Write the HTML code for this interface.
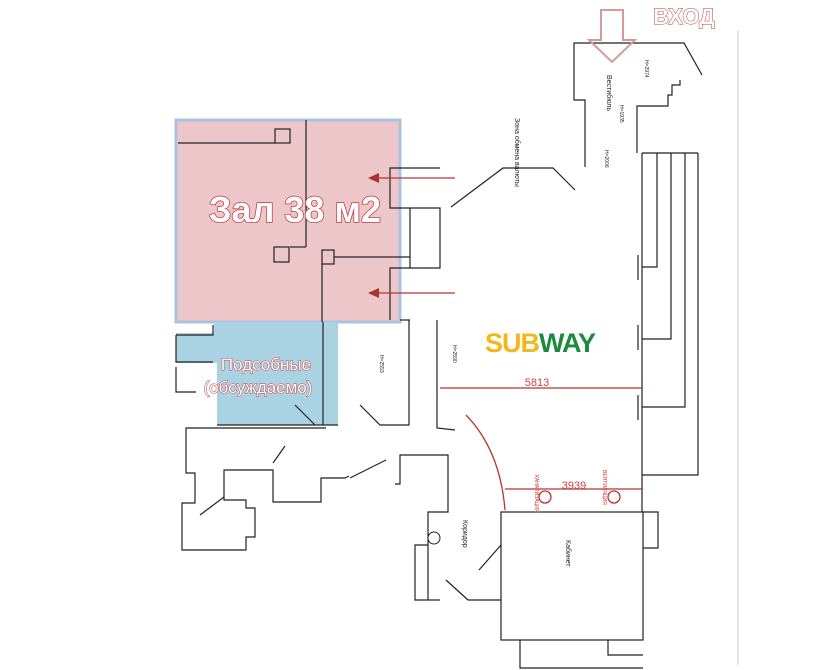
<!DOCTYPE html>
<html><head><meta charset="utf-8"><style>
html,body{margin:0;padding:0;background:#fff;}
svg{display:block;font-family:"Liberation Sans","DejaVu Sans",sans-serif;}
</style></head><body>
<svg width="840" height="670" viewBox="0 0 840 670" xmlns="http://www.w3.org/2000/svg">
<!-- far right thin line -->
<line x1="738" y1="30" x2="738" y2="665" stroke="#ccc" stroke-width="1"/>

<!-- Pink hall -->
<rect x="176" y="120" width="224" height="202" fill="#ecc6c8" stroke="#a9c3e0" stroke-width="3"/>
<!-- Blue area -->
<polygon points="176,333 214,333 214,322 338,322 338,425 217,425 217,363 176,363" fill="#a9d3e2"/>

<g stroke="#222" stroke-width="1.2" fill="none">
  <!-- inside hall -->
  <polyline points="178,143 275,143"/>
  <rect x="275" y="129" width="15" height="14"/>
  <line x1="306" y1="120" x2="306" y2="247"/>
  <polyline points="290,247 306,247"/>
  <rect x="274" y="247" width="15" height="15"/>
  <rect x="322" y="250" width="12" height="14"/>
  <polyline points="334,257 410,257"/>
  <polyline points="322,264 322,322"/>
  <polyline points="390,168 400,168 390,168 390,208 400,208"/>
  <line x1="400" y1="168" x2="440" y2="168"/>
  <polyline points="400,208 440,208 440,268 400,268"/>
  <line x1="410" y1="208" x2="410" y2="268"/>
  <polyline points="400,268 390,268 390,320"/>
  <!-- blue area walls -->
  <line x1="323" y1="322" x2="323" y2="425"/>
  <polyline points="176,335 213,335 213,325"/>
  <polyline points="176,335 176,362 213,362"/>
  <polyline points="176,367 176,392 196,392"/>
  <line x1="295" y1="405" x2="315" y2="425"/>
  <line x1="217" y1="425" x2="338" y2="425"/>
  <!-- center rooms -->
  <polyline points="409,320 409,425 380,425 360,405"/>
  <polyline points="400,320 410,320"/>
  <polyline points="437,320 437,428 455,430"/>
  <!-- lower left rooms -->
  <polyline points="326,428 186,428 186,473 195,473 195,503 182,503 182,550 246,550 246,537 255,537 255,508 246,508 246,500 224,500 224,470 273,470 273,502 321,502 321,478 345,478 349,476"/>
  <line x1="200" y1="515" x2="224" y2="497"/>
  <line x1="273" y1="463" x2="285" y2="446"/>
  <line x1="350" y1="478" x2="386" y2="460"/>
  <polyline points="395,484 400,484 400,455 448,455 448,512 428,512 428,600 415,600 415,545 428,545"/>
  <line x1="428" y1="600" x2="440" y2="600"/>
  <line x1="446" y1="580" x2="468" y2="600"/>
  <polyline points="468,600 501,600"/>
  <line x1="479" y1="570" x2="501" y2="545"/>
  <!-- cabinet -->
  <rect x="501" y="512" width="142" height="128"/>
  <polyline points="643,512 658,512 658,548 643,548"/>
  <polyline points="520,640 520,668 643,668"/>
  <polyline points="608,640 608,655 643,655"/>
  <!-- right structure -->
  <line x1="642" y1="153" x2="642" y2="512"/>
  <line x1="642" y1="153" x2="698" y2="153"/>
  <polyline points="657,153 657,267 642,267"/>
  <polyline points="671,153 671,339 642,339"/>
  <polyline points="685,153 685,407 642,407"/>
  <polyline points="698,153 698,475 642,475"/>
  <line x1="638" y1="255" x2="638" y2="280"/>
  <line x1="638" y1="325" x2="638" y2="350"/>
  <line x1="638" y1="395" x2="638" y2="420"/>
  <!-- vestibule -->
  <polyline points="585,167 585,100 574,100 574,43 684,43 702,75"/>
  <polyline points="637,153 637,106 668,106 668,95 672,95 672,85 680,85 680,80"/>
  <!-- zone -->
  <polyline points="451,207 503,168 553,168 575,190"/>
</g>
<!-- Circle symbol -->
<circle cx="434" cy="538" r="6" fill="#fff" stroke="#222" stroke-width="1"/>

<!-- red lines -->
<g stroke="#b33" stroke-width="1.3" fill="none">
  <line x1="375" y1="178" x2="455" y2="178"/>
  <line x1="375" y1="293" x2="455" y2="293"/>
  <line x1="440" y1="388" x2="643" y2="388"/>
  <line x1="505" y1="489" x2="643" y2="489"/>
  <path d="M466,415 Q500,450 505,510"/>
  <circle cx="545" cy="497" r="6"/>
  <circle cx="614" cy="497" r="6"/>
</g>
<polygon points="368,178 379,173 379,183" fill="#a33"/>
<polygon points="368,293 379,288 379,298" fill="#a33"/>
<text x="537" y="386" font-size="11" fill="#c44" text-anchor="middle">5813</text>
<text x="574" y="489" font-size="11" fill="#c44" text-anchor="middle">3939</text>
<text font-size="5" fill="#d33" transform="translate(535,475) rotate(90)">КАНАЛИЗАЦИЯ</text>
<text font-size="5" fill="#d33" transform="translate(603,470) rotate(90)">ВЕНТИЛЯЦИЯ</text>

<!-- labels -->
<text x="295" y="222" font-size="36" fill="#fff" stroke="#c0393f" stroke-width="1.5" text-anchor="middle" font-weight="bold" paint-order="stroke">Зал 38 м2</text>
<text x="266" y="370" font-size="17" fill="#fff" stroke="#c0393f" stroke-width="1" text-anchor="middle" paint-order="stroke">Подсобные</text>
<text x="258" y="393" font-size="17" fill="#fff" stroke="#c0393f" stroke-width="1" text-anchor="middle" paint-order="stroke">(обсуждаемо)</text>

<text x="540" y="352" font-size="27" font-weight="bold" text-anchor="middle" letter-spacing="-1"><tspan fill="#f2b81b">SUB</tspan><tspan fill="#1a8a3c">WAY</tspan></text>

<text x="684" y="24" font-size="22" font-weight="bold" fill="#fff" stroke="#c0393f" stroke-width="1" text-anchor="middle" paint-order="stroke">ВХОД</text>
<polygon points="601,10 623,10 623,40 635,40 612,62 589,40 601,40" fill="none" stroke="#d69a9a" stroke-width="2"/>

<g font-size="7" fill="#222">
  <text transform="translate(607,75) rotate(90)">Вестибюль</text>
  <text transform="translate(515,118) rotate(90)">Зона обмена валюты</text>
  <text transform="translate(463,520) rotate(90)">Коридор</text>
  <text transform="translate(566,540) rotate(90)">Кабинет</text>
  <text transform="translate(380,355) rotate(90)" font-size="5">H=2553</text>
  <text transform="translate(453,345) rotate(90)" font-size="5">H=2590</text>
  <text transform="translate(620,105) rotate(90)" font-size="5">H=1935</text>
  <text transform="translate(605,150) rotate(90)" font-size="5">H=2006</text>
  <text transform="translate(645,60) rotate(90)" font-size="5">H=2974</text>
</g>
</svg>
</body></html>
